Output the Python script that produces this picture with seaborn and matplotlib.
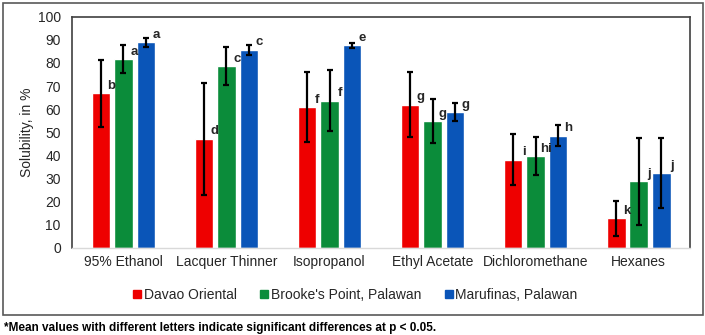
import matplotlib
matplotlib.use("Agg")
import matplotlib.pyplot as plt
import seaborn as sns
import pandas as pd
import numpy as np
from matplotlib.patches import Rectangle
from matplotlib.lines import Line2D

solvents = ["95% Ethanol", "Lacquer Thinner", "Isopropanol", "Ethyl Acetate", "Dichloromethane", "Hexanes"]
sources = ["Davao Oriental", "Brooke's Point, Palawan", "Marufinas, Palawan"]

davao = [66.8, 47.2, 61.0, 62.0, 38.2, 12.9]
brookes = [81.6, 78.6, 63.7, 54.8, 39.6, 28.8]
marufinas = [88.9, 85.7, 87.6, 58.8, 48.5, 32.4]

davao_err = [14.5, 24.3, 15.3, 14.0, 11.1, 7.6]
brookes_err = [6.1, 8.3, 13.2, 9.5, 8.2, 18.9]
marufinas_err = [1.8, 2.1, 1.0, 4.0, 4.6, 15.3]

davao_lbl = ["b", "d", "f", "g", "i", "k"]
brookes_lbl = ["a", "c", "f", "g", "hi", "j"]
marufinas_lbl = ["a", "c", "e", "g", "h", "j"]

colors = ["#EE0000", "#0B8C3A", "#0A55B8"]

rows = []
for src, vals, errs, lbls in zip(sources, [davao, brookes, marufinas],
                                  [davao_err, brookes_err, marufinas_err],
                                  [davao_lbl, brookes_lbl, marufinas_lbl]):
    for s, v, e, l in zip(solvents, vals, errs, lbls):
        rows.append({"Solvent": s, "Source": src, "Value": v, "Err": e, "Lbl": l})
df = pd.DataFrame(rows)

sns.set_theme(style="white")
plt.rcParams["font.family"] = ["Liberation Sans", "DejaVu Sans"]

fig = plt.figure(figsize=(7.05, 3.35), dpi=100)
ax = fig.add_axes([0.102, 0.260, 0.877, 0.690])

sns.barplot(data=df, x="Solvent", y="Value", hue="Source", order=solvents,
            hue_order=sources, palette=colors, errorbar=None, width=0.655,
            gap=0.17, saturation=1, ax=ax, legend=False)

# error bars and letters from bar patches
for hi, src in enumerate(sources):
    sub = df[df.Source == src].set_index("Solvent").loc[solvents]
    cont = ax.containers[hi]
    xs = [p.get_x() + p.get_width() / 2 for p in cont.patches]
    ax.errorbar(xs, sub.Value.values, yerr=sub.Err.values, fmt="none",
                ecolor="black", elinewidth=1.6, capsize=2.5, capthick=1.6, zorder=5)
    for x, v, l in zip(xs, sub.Value.values, sub.Lbl.values):
        ax.annotate(l, (x, v), xytext=(7.5, 1), textcoords="offset points",
                    ha="center", va="bottom", fontsize=9.5, fontweight="bold",
                    color="#262626", zorder=6)

ax.set_xlim(-0.5, 5.5)
ax.set_ylim(0, 100)
ax.set_yticks(np.arange(0, 101, 10))
ax.tick_params(axis="y", labelsize=10, length=0, pad=8, colors="#262626")
ax.tick_params(axis="x", labelsize=10, length=0, pad=5, colors="#262626")
ax.set_xlabel("")
ax.set_ylabel("Solubility, in %", fontsize=10, color="#262626", labelpad=3)

for side in ["left", "top", "right"]:
    ax.spines[side].set_color("#404040")
    ax.spines[side].set_linewidth(1.2)
ax.spines["bottom"].set_color("#D9D9D9")
ax.spines["bottom"].set_linewidth(1.0)

handles = [Line2D([0], [0], marker="s", linestyle="none", markersize=6,
                  markerfacecolor=c, markeredgecolor=c) for c in colors]
fig.legend(handles, sources, loc="center", bbox_to_anchor=(0.503, 0.119), ncol=3,
           frameon=False, fontsize=10, handletextpad=0.05, columnspacing=1.6,
           handlelength=0.8, labelcolor="#262626")

fig.patches.append(Rectangle((2.5 / 705, 1 - 315 / 335), 700 / 705, 312.5 / 335,
                             transform=fig.transFigure, fill=False,
                             edgecolor="#595959", linewidth=1.2))

fig.text(4 / 705, 0.021, "*Mean values with different letters indicate significant differences at p < 0.05.",
         fontsize=8.5, fontweight="bold", ha="left", va="center", color="black")

fig.savefig("out.png", dpi=100)
